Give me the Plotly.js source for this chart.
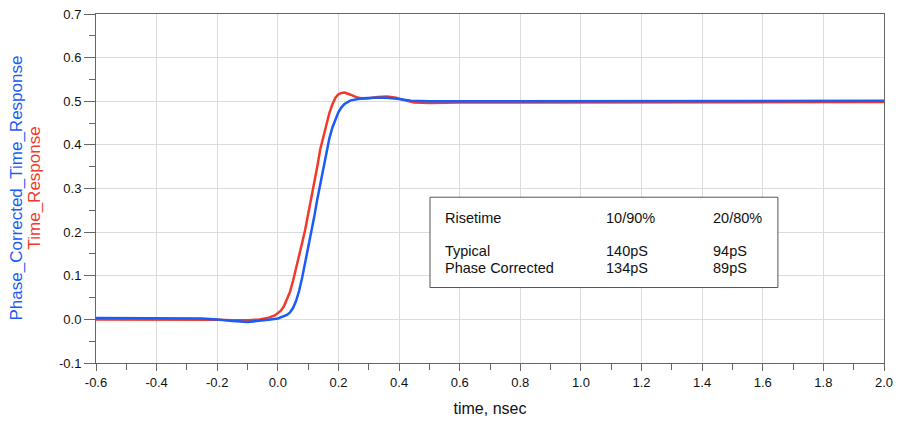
<!DOCTYPE html>
<html>
<head>
<meta charset="utf-8">
<script src="https://cdn.plot.ly/plotly-3.0.1.min.js"></script>
<style>html,body{margin:0;padding:0;background:#fff;}#chart{width:903px;height:428px;}</style>
</head>
<body>
<div id="chart"></div>
<script>
// Time_Response (red)
const timeX = [-0.6, -0.4, -0.25, -0.2, -0.15, -0.1, -0.06, -0.03, -0.01, 0.0, 0.01, 0.02, 0.03, 0.04, 0.05, 0.06, 0.07, 0.08, 0.09, 0.10, 0.11, 0.12, 0.13, 0.14, 0.15, 0.16, 0.17, 0.18, 0.19, 0.20, 0.21, 0.22, 0.23, 0.24, 0.26, 0.28, 0.30, 0.33, 0.36, 0.39, 0.42, 0.45, 0.5, 0.6, 0.8, 1.0, 1.2, 1.4, 1.6, 1.8, 2.0];
const timeY = [0.0, 0.0, 0.0, -0.001, -0.002, -0.002, 0.0, 0.004, 0.009, 0.014, 0.02, 0.03, 0.045, 0.063, 0.088, 0.115, 0.145, 0.175, 0.205, 0.24, 0.275, 0.315, 0.35, 0.39, 0.42, 0.448, 0.473, 0.493, 0.508, 0.516, 0.519, 0.52, 0.518, 0.515, 0.509, 0.506, 0.507, 0.51, 0.511, 0.508, 0.502, 0.497, 0.496, 0.497, 0.497, 0.497, 0.497, 0.498, 0.498, 0.498, 0.498];
// Phase_Corrected_Time_Response (blue)
const phaseX = [-0.6, -0.4, -0.25, -0.2, -0.15, -0.1, -0.06, -0.03, 0.0, 0.02, 0.03, 0.04, 0.05, 0.06, 0.07, 0.08, 0.09, 0.10, 0.11, 0.12, 0.13, 0.14, 0.15, 0.16, 0.17, 0.18, 0.19, 0.20, 0.21, 0.22, 0.24, 0.26, 0.28, 0.32, 0.36, 0.40, 0.44, 0.5, 0.6, 0.8, 1.0, 1.2, 1.4, 1.6, 1.8, 2.0];
const phaseY = [0.003, 0.003, 0.002, 0.0, -0.004, -0.006, -0.004, -0.001, 0.002, 0.007, 0.01, 0.016, 0.026, 0.042, 0.065, 0.095, 0.13, 0.16, 0.195, 0.235, 0.275, 0.31, 0.35, 0.385, 0.415, 0.44, 0.46, 0.475, 0.486, 0.494, 0.502, 0.505, 0.507, 0.508, 0.508, 0.505, 0.501, 0.5, 0.5, 0.501, 0.501, 0.501, 0.501, 0.501, 0.501, 0.501];

const xTickVals = [-0.6, -0.4, -0.2, 0.0, 0.2, 0.4, 0.6, 0.8, 1.0, 1.2, 1.4, 1.6, 1.8, 2.0];
const xTickText = ['-0.6', '-0.4', '-0.2', '0.0', '0.2', '0.4', '0.6', '0.8', '1.0', '1.2', '1.4', '1.6', '1.8', '2.0'];
const yTickVals = [-0.1, 0.0, 0.1, 0.2, 0.3, 0.4, 0.5, 0.6, 0.7];
const yTickText = ['-0.1', '0.0', '0.1', '0.2', '0.3', '0.4', '0.5', '0.6', '0.7'];

const tableRows = [
  ['Risetime', '10/90%', '20/80%'],
  ['Typical', '140pS', '94pS'],
  ['Phase Corrected', '134pS', '89pS']
];

const RED = '#f23a2b';
const BLUE = '#1a5cf5';
const FONT = 'Liberation Sans, Arial, sans-serif';

const traces = [
  {x: timeX, y: timeY, type: 'scatter', mode: 'lines', name: 'Time_Response', line: {color: RED, width: 2.5}},
  {x: phaseX, y: phaseY, type: 'scatter', mode: 'lines', name: 'Phase_Corrected_Time_Response', line: {color: BLUE, width: 2.5}}
];

const colX = [0.548, 1.078, 1.431];
const rowY = [0.232, 0.156, 0.118];
const annotations = [];
tableRows.forEach((row, r) => {
  row.forEach((txt, c) => {
    annotations.push({x: colX[c], y: rowY[r], xref: 'x', yref: 'y', text: txt, showarrow: false,
      xanchor: 'left', yanchor: 'middle', borderpad: 0, font: {family: FONT, size: 14.5, color: '#111'}});
  });
});
annotations.push({x: 0, y: 0.5, xref: 'paper', yref: 'paper', xshift: -80, text: 'Phase_Corrected_Time_Response',
  textangle: -90, showarrow: false, xanchor: 'center', yanchor: 'middle', borderpad: 0, font: {family: FONT, size: 17, color: BLUE}});
annotations.push({x: 0, y: 0.5, xref: 'paper', yref: 'paper', xshift: -62, text: 'Time_Response',
  textangle: -90, showarrow: false, xanchor: 'center', yanchor: 'middle', borderpad: 0, font: {family: FONT, size: 17, color: RED}});

const layout = {
  width: 903, height: 428,
  margin: {l: 96, r: 19, t: 14, b: 65},
  paper_bgcolor: '#fff', plot_bgcolor: '#fff',
  showlegend: false,
  font: {family: FONT, size: 13, color: '#111'},
  xaxis: {
    range: [-0.6, 2.0], tickmode: 'array', tickvals: xTickVals, ticktext: xTickText,
    showgrid: true, gridcolor: '#dcdcdc', gridwidth: 1, zeroline: false,
    showline: true, linecolor: '#666', linewidth: 1, mirror: true,
    ticks: 'outside', ticklen: 7, tickcolor: '#666',
    minor: {dtick: 0.1, tick0: -0.6, ticks: 'outside', ticklen: 6, tickcolor: '#666', showgrid: false},
    tickfont: {family: FONT, size: 13, color: '#111'},
    title: {text: 'time, nsec', font: {family: FONT, size: 16, color: '#111'}, standoff: 14}
  },
  yaxis: {
    range: [-0.1, 0.7], tickmode: 'array', tickvals: yTickVals, ticktext: yTickText,
    showgrid: true, gridcolor: '#dcdcdc', gridwidth: 1, zeroline: false,
    showline: true, linecolor: '#666', linewidth: 1, mirror: true,
    ticks: 'outside', ticklen: 11, tickcolor: '#666',
    minor: {dtick: 0.05, tick0: 0, ticks: 'outside', ticklen: 6, tickcolor: '#666', showgrid: false},
    tickfont: {family: FONT, size: 13, color: '#111'}
  },
  shapes: [{type: 'rect', xref: 'x', yref: 'y', x0: 0.502, x1: 1.65, y0: 0.073, y1: 0.28,
    line: {color: '#555', width: 1}, fillcolor: '#fff', layer: 'above'}],
  annotations: annotations
};

Plotly.newPlot('chart', traces, layout, {displayModeBar: false, staticPlot: true});
</script>
</body>
</html>
